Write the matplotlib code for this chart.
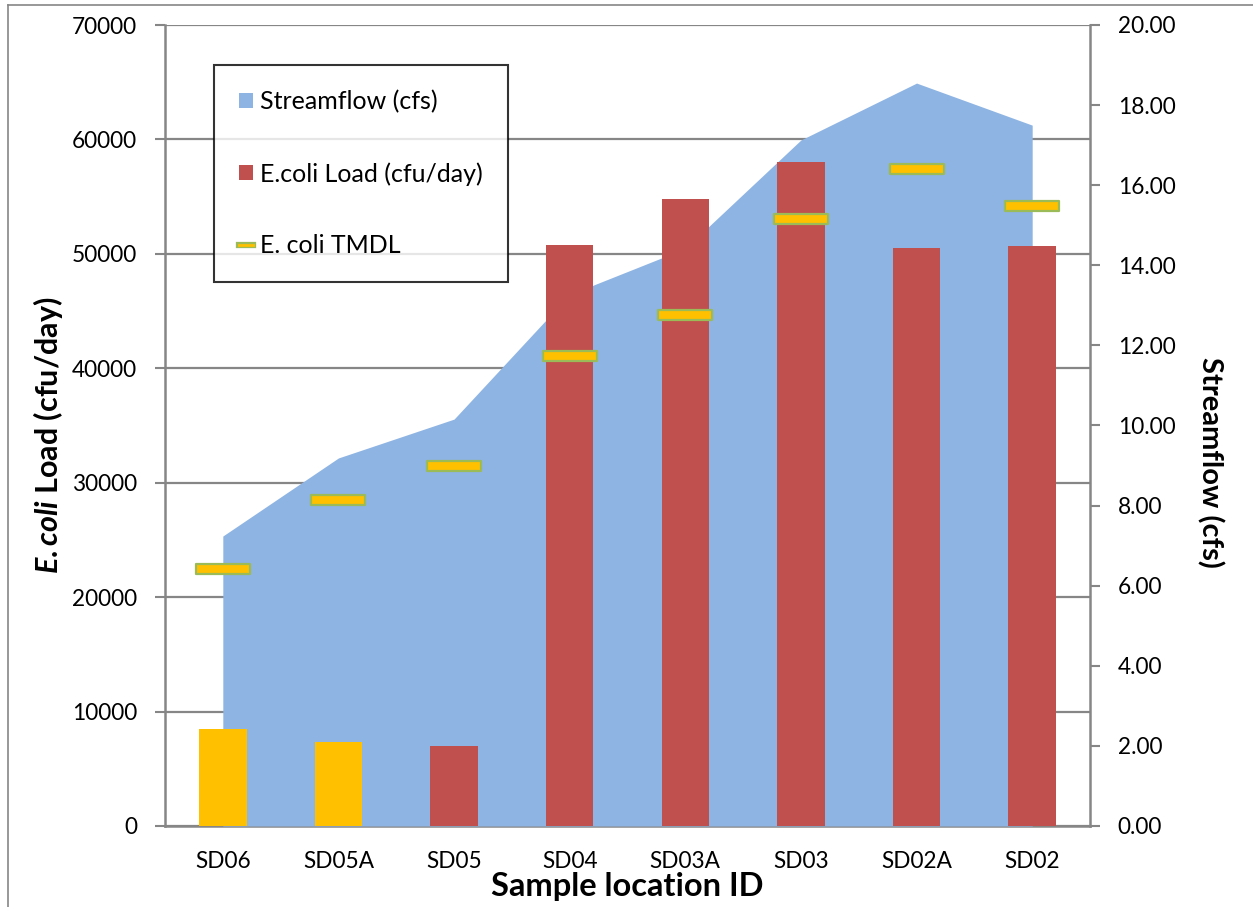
import matplotlib
matplotlib.use("Agg")
import matplotlib.pyplot as plt
import matplotlib.patheffects as pe
from matplotlib.patches import Patch
from matplotlib.lines import Line2D
from matplotlib.path import Path
import numpy as np

# Data
sites = ["SD06", "SD05A", "SD05", "SD04", "SD03A", "SD03", "SD02A", "SD02"]
streamflow_cfs = [7.24, 9.19, 10.16, 13.27, 14.42, 17.13, 18.55, 17.50]
ecoli_load = [8500, 7300, 7000, 50800, 54800, 58000, 50500, 50700]
ecoli_tmdl = [22450, 28450, 31450, 41100, 44650, 53050, 57400, 54200]
load_colors = ["#FFC000", "#FFC000", "#C0504D", "#C0504D",
               "#C0504D", "#C0504D", "#C0504D", "#C0504D"]
load_ticks = [0, 10000, 20000, 30000, 40000, 50000, 60000, 70000]
flow_ticks = [0, 2, 4, 6, 8, 10, 12, 14, 16, 18, 20]

FONT = "Lato"
plt.rcParams["font.family"] = [FONT, "DejaVu Sans"]
plt.rcParams["mathtext.fontset"] = "custom"
plt.rcParams["mathtext.it"] = f"{FONT}:italic:bold"
plt.rcParams["mathtext.rm"] = f"{FONT}:bold"
plt.rcParams["mathtext.bf"] = f"{FONT}:bold"

GREY = "#868686"
FS = 16.3
TITLE_FS = 22

W, H = 1253, 907
fig = plt.figure(figsize=(W / 100, H / 100), dpi=100)
rect = [165 / W, 1 - 826 / H, (1090 - 165) / W, (826 - 25) / H]

x = np.arange(len(sites)) + 0.5

# Base axes: load scale with gridlines
ax = fig.add_axes(rect)
ax.set_zorder(1)
ax.set_xlim(0, len(sites))
ax.set_ylim(0, 70000)
ax.set_yticks(load_ticks)
ax.yaxis.grid(True, color=GREY, linewidth=1.6)
ax.set_axisbelow(True)
for s in ["top", "right"]:
    ax.spines[s].set_visible(False)
for s in ["left", "bottom"]:
    ax.spines[s].set_color(GREY)
    ax.spines[s].set_linewidth(1.8)
ax.tick_params(axis="y", direction="out", length=7, width=1.5, color=GREY,
               labelsize=FS, pad=13)
ax.tick_params(axis="x", length=0, labelsize=FS, pad=18)
ax.set_xticks(x)
ax.set_xticklabels(sites)
ax.set_xlabel("Sample location ID", fontsize=23.5, fontweight="bold",
              labelpad=0)

# Left axis title with italic organism name
fig.text(48 / W, 1 - 435 / H, r"$\mathit{E{.}coli}$ Load (cfu/day)",
         rotation=90, ha="center", va="center", fontsize=TITLE_FS,
         fontweight="bold")

# Streamflow area on the right-hand scale
axf = ax.twinx()
axf.set_zorder(2)
axf.patch.set_visible(False)
axf.set_ylim(0, 20)
axf.set_yticks(flow_ticks)
axf.set_yticklabels([f"{v:.2f}" for v in flow_ticks])
axf.fill_between(x, 0, streamflow_cfs, color="#8EB4E3", linewidth=0)
for s in ["top", "left", "bottom"]:
    axf.spines[s].set_visible(False)
axf.spines["right"].set_color(GREY)
axf.spines["right"].set_linewidth(1.8)
axf.tick_params(axis="y", direction="out", length=7, width=1.5, color=GREY,
                labelsize=FS, pad=13)

# Load bars and TMDL markers on top, sharing the load scale
axb = fig.add_axes(rect, sharex=ax, sharey=ax)
axb.set_zorder(3)
axb.patch.set_visible(False)
axb.axis("off")
axb.bar(x, ecoli_load, width=0.41, color=load_colors, linewidth=0)

tmdl_marker = Path([(-2.8, -0.5), (2.8, -0.5), (2.8, 0.5), (-2.8, 0.5), (-2.8, -0.5)],
                   [Path.MOVETO, Path.LINETO, Path.LINETO, Path.LINETO, Path.CLOSEPOLY])
axb.plot(x, ecoli_tmdl, linestyle="none", marker=tmdl_marker, markersize=39,
         markerfacecolor="#FFC000", markeredgecolor="#9BBB59",
         markeredgewidth=1.6)

# Legend
handles = [
    Patch(facecolor="#8EB4E3", edgecolor="none"),
    Patch(facecolor="#C0504D", edgecolor="none"),
    Line2D([0], [0], color="#FFC000", linewidth=2.0,
           path_effects=[pe.Stroke(linewidth=4.5, foreground="#9BBB59"), pe.Normal()]),
]
labels = ["Streamflow (cfs)", "E.coli Load (cfu/day)", "E. coli TMDL"]
leg = axb.legend(handles, labels, loc="upper left",
                 bbox_to_anchor=(214 / W, 1 - 65 / H),
                 bbox_transform=fig.transFigure,
                 fontsize=18, frameon=True, fancybox=False, shadow=False,
                 borderpad=1.0, labelspacing=1.95, handlelength=0.56,
                 handleheight=0.56, handletextpad=0.28, borderaxespad=0)
leg.get_frame().set_edgecolor("black")
leg.get_frame().set_linewidth(1.5)

# Right axis title
fig.text(1210 / W, 1 - 462 / H, "Streamflow (cfs)", rotation=270,
         ha="center", va="center", fontsize=21, fontweight="bold")

# Outer chart border
fig.add_artist(Line2D([8 / W, 8 / W], [0, 1 - 5 / H], transform=fig.transFigure,
                      color=GREY, linewidth=1.2))
fig.add_artist(Line2D([8 / W, 1], [1 - 5 / H, 1 - 5 / H], transform=fig.transFigure,
                      color=GREY, linewidth=1.2))

fig.savefig("out.png", dpi=100)
